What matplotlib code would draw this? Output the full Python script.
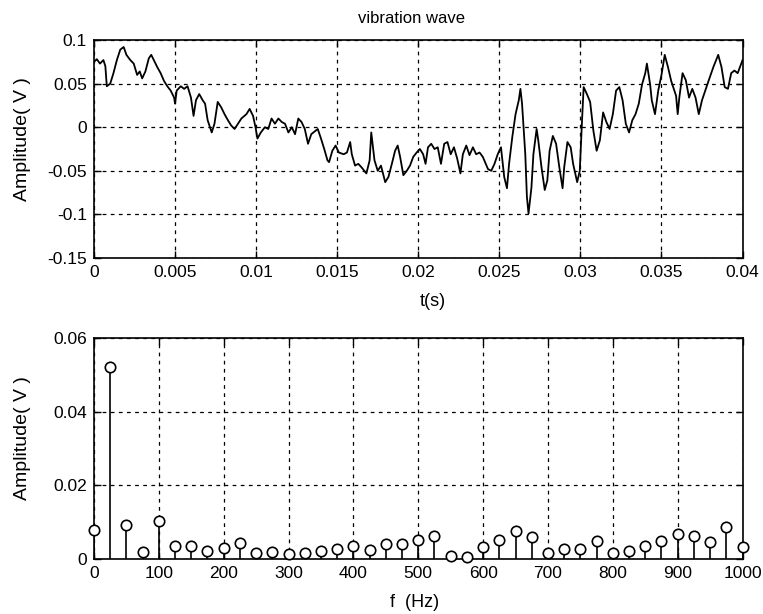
import matplotlib.pyplot as plt

plt.rcParams['font.family'] = ['Liberation Sans', 'DejaVu Sans']
plt.rcParams['axes.unicode_minus'] = False

# ---- vibration wave (time in ms, amplitude in V), traced by eye ----
t_ms = [0.0, 0.17, 0.37, 0.58, 0.70, 0.79, 1.0, 1.2, 1.41, 1.62, 1.83, 2.0, 2.24, 2.45,
        2.66, 2.82, 2.97, 3.17, 3.38, 3.53, 3.69, 3.90, 4.11, 4.32, 4.52, 4.73, 4.94, 5.0,
        5.1, 5.35, 5.56, 5.77, 5.98, 6.14, 6.29, 6.49, 6.70, 6.85, 7.01, 7.26, 7.43, 7.63,
        7.84, 8.05, 8.26, 8.46, 8.67, 8.88, 9.09, 9.40, 9.6, 9.81, 9.96, 10.08, 10.29, 10.54,
        10.75, 10.95, 11.16, 11.37, 11.58, 11.78, 11.99, 12.2, 12.4, 12.6, 12.8, 13.0, 13.2,
        13.4, 13.8, 14.0, 14.2, 14.4, 14.5, 14.7, 14.9, 15.1, 15.4, 15.6, 15.8, 15.9, 16.1,
        16.3, 16.5, 16.8, 17.0, 17.1, 17.3, 17.5, 17.7, 17.96, 18.16, 18.37, 18.57, 18.73,
        18.88, 19.08, 19.29, 19.49, 19.69, 19.90, 20.1, 20.3, 20.45, 20.6, 20.8, 21.0, 21.2,
        21.4, 21.6, 21.8, 22.0, 22.2, 22.4, 22.6, 22.75, 22.96, 23.16, 23.37, 23.57, 23.78,
        23.98, 24.3, 24.5, 24.7, 24.9, 25.1, 25.3, 25.47, 25.6, 25.8, 26.0, 26.2, 26.3, 26.4,
        26.6, 26.7, 26.8, 26.98, 27.1, 27.3, 27.4, 27.6, 27.8, 27.96, 28.1, 28.3, 28.5, 28.7,
        28.9, 29.0, 29.2, 29.4, 29.55, 29.8, 29.96, 30.1, 30.2, 30.4, 30.6, 30.8, 31.0, 31.2,
        31.4, 31.6, 31.8, 32.0, 32.2, 32.4, 32.6, 32.8, 33.0, 33.2, 33.4, 33.6, 33.8, 34.0,
        34.1, 34.3, 34.4, 34.6, 34.8, 35.0, 35.2, 35.4, 35.6, 35.9, 36.0, 36.1, 36.3, 36.5,
        36.7, 36.9, 37.1, 37.3, 37.5, 37.7, 37.9, 38.2, 38.5, 38.7, 38.9, 39.1, 39.3, 39.5,
        39.7, 40.0]
amp = [0.075, 0.078, 0.073, 0.077, 0.070, 0.047, 0.050, 0.062, 0.077, 0.089, 0.092, 0.083,
       0.077, 0.073, 0.060, 0.064, 0.056, 0.064, 0.079, 0.083, 0.077, 0.069, 0.062, 0.053,
       0.047, 0.042, 0.034, 0.027, 0.042, 0.047, 0.044, 0.047, 0.034, 0.013, 0.031, 0.038,
       0.031, 0.027, 0.008, -0.006, 0.004, 0.029, 0.023, 0.015, 0.008, 0.002, -0.002, 0.004,
       0.010, 0.015, 0.021, 0.013, 0.0, -0.013, -0.006, 0.0, -0.002, 0.010, 0.004, 0.010,
       0.006, 0.004, -0.006, 0.0, -0.008, 0.010, 0.006, -0.002, -0.019, -0.008, -0.002,
       -0.013, -0.025, -0.038, -0.040, -0.027, -0.021, -0.029, -0.031, -0.029, -0.017,
       -0.031, -0.044, -0.042, -0.046, -0.053, -0.038, -0.006, -0.038, -0.050, -0.044,
       -0.063, -0.057, -0.042, -0.027, -0.021, -0.034, -0.055, -0.050, -0.044, -0.034,
       -0.029, -0.025, -0.031, -0.042, -0.023, -0.019, -0.025, -0.023, -0.042, -0.019,
       -0.017, -0.031, -0.023, -0.036, -0.053, -0.031, -0.021, -0.032, -0.023, -0.031,
       -0.029, -0.034, -0.048, -0.050, -0.042, -0.031, -0.023, -0.057, -0.070, -0.042,
       -0.011, 0.015, 0.031, 0.044, 0.027, -0.031, -0.080, -0.099, -0.069, -0.031, -0.002,
       -0.015, -0.046, -0.072, -0.061, -0.027, -0.010, -0.019, -0.046, -0.070, -0.046,
       -0.017, -0.023, -0.042, -0.063, -0.050, 0.008, 0.046, 0.038, 0.029, -0.004, -0.027,
       -0.015, 0.017, 0.006, -0.002, 0.015, 0.042, 0.046, 0.031, 0.004, -0.006, 0.008,
       0.015, 0.027, 0.049, 0.062, 0.073, 0.049, 0.031, 0.015, 0.042, 0.060, 0.083, 0.069,
       0.053, 0.036, 0.015, 0.034, 0.062, 0.054, 0.034, 0.044, 0.034, 0.015, 0.031, 0.042,
       0.053, 0.069, 0.083, 0.069, 0.046, 0.044, 0.062, 0.065, 0.062, 0.077]
t_s = [v / 1000.0 for v in t_ms]

# ---- spectrum ----
freq = [0, 25, 50, 75, 100, 125, 150, 175, 200, 225, 250, 275, 300, 325, 350, 375, 400,
        425, 450, 475, 500, 525, 550, 575, 600, 625, 650, 675, 700, 725, 750, 775, 800,
        825, 850, 875, 900, 925, 950, 975, 1000]
spec = [0.0080, 0.0520, 0.0092, 0.0020, 0.0103, 0.0036, 0.0034, 0.0023, 0.0031, 0.0043,
        0.0016, 0.0019, 0.0013, 0.0016, 0.0022, 0.0027, 0.0036, 0.0025, 0.0041, 0.0042,
        0.0051, 0.0063, 0.0009, 0.0006, 0.0033, 0.0052, 0.0075, 0.0060, 0.0016, 0.0026,
        0.0026, 0.0048, 0.0016, 0.0023, 0.0035, 0.0050, 0.0068, 0.0063, 0.0047, 0.0086,
        0.0033]

t_ticks = [0, 0.005, 0.01, 0.015, 0.02, 0.025, 0.03, 0.035, 0.04]
v_ticks = [-0.15, -0.1, -0.05, 0, 0.05, 0.1]
f_ticks = [0, 100, 200, 300, 400, 500, 600, 700, 800, 900, 1000]
s_ticks = [0, 0.02, 0.04, 0.06]

fig = plt.figure(figsize=(7.63, 6.14), dpi=100)
ax1 = fig.add_axes([0.1232, 0.5798, 0.850, 0.355])
ax2 = fig.add_axes([0.1232, 0.0896, 0.850, 0.360])

grid_style = dict(color='black', linestyle=(0, (3, 3.5)), linewidth=0.9)

# top: waveform
ax1.plot(t_s, amp, color='black', linewidth=1.3)
ax1.set_xlim(0, 0.04)
ax1.set_ylim(-0.15, 0.1)
ax1.set_xticks(t_ticks)
ax1.set_xticklabels(['%g' % v for v in t_ticks])
ax1.set_yticks(v_ticks)
ax1.set_yticklabels(['%g' % v for v in v_ticks])
ax1.grid(True, **grid_style)
ax1.set_xlabel('t(s)', fontsize=13)
ax1.xaxis.set_label_coords(0.523, -0.16)
ax1.set_ylabel('Amplitude( V )', fontsize=14)
ax1.yaxis.set_label_coords(-0.097, 0.546)
ax1.text(0.489, 1.10, 'vibration wave', transform=ax1.transAxes,
         ha='center', va='center', fontsize=12)

# bottom: spectrum
markers, stems, base = ax2.stem(freq, spec, basefmt=' ')
plt.setp(stems, color='black', linewidth=1.2)
plt.setp(markers, color='black', markerfacecolor='white', markersize=7.5,
         markeredgewidth=1.2, clip_on=False, zorder=3)
ax2.set_xlim(0, 1000)
ax2.set_ylim(0, 0.06)
ax2.set_xticks(f_ticks)
ax2.set_xticklabels(['%g' % v for v in f_ticks])
ax2.set_yticks(s_ticks)
ax2.set_yticklabels(['%g' % v for v in s_ticks])
ax2.grid(True, **grid_style)
ax2.set_xlabel('f  (Hz)', fontsize=13)
ax2.xaxis.set_label_coords(0.495, -0.158)
ax2.set_ylabel('Amplitude( V )', fontsize=14)
ax2.yaxis.set_label_coords(-0.097, 0.548)

for ax in (ax1, ax2):
    ax.set_axisbelow(True)
    ax.tick_params(direction='in', length=5, width=1, labelsize=12.5, pad=5,
                   top=True, right=True)
    for sp in ax.spines.values():
        sp.set_linewidth(1.2)

fig.savefig('out.png', dpi=100)
